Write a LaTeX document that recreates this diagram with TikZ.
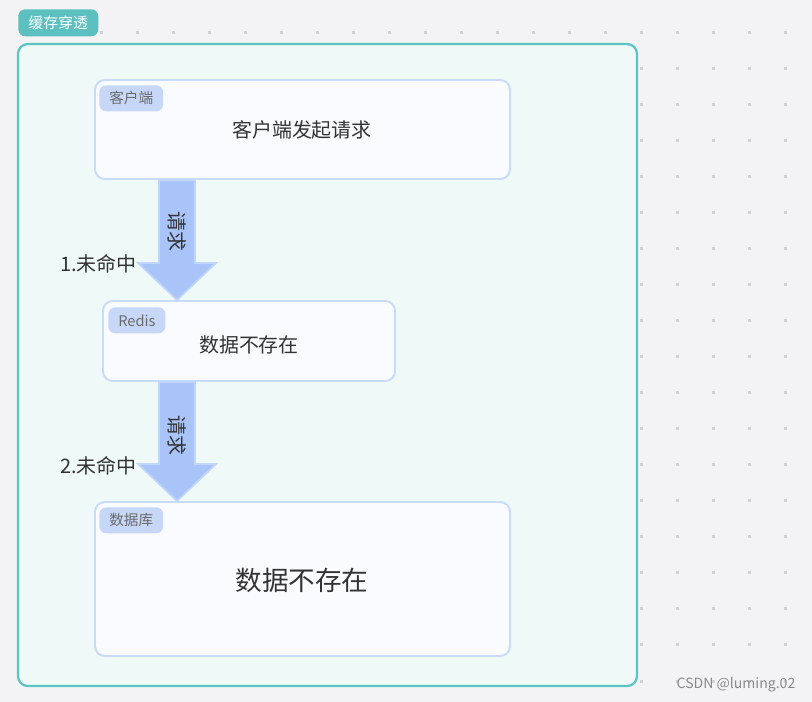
\documentclass[tikz,border=0pt]{standalone}
\usepackage{fontspec}
\setmainfont{Noto Sans CJK SC}
\usetikzlibrary{calc,fit}
\definecolor{bgcol}{HTML}{F3F3F6}
\definecolor{dotcol}{HTML}{D2D2D6}
\definecolor{framefill}{HTML}{EEF9F8}
\definecolor{frameline}{HTML}{5CC4C2}
\definecolor{frametagfill}{HTML}{5CC0C0}
\definecolor{boxline}{HTML}{C8DBFA}
\definecolor{boxfill}{HTML}{F9FBFF}
\definecolor{tagfill}{HTML}{C6D7F8}
\definecolor{tagtext}{HTML}{6B6B6B}
\definecolor{flowfill}{HTML}{A8C4F8}
\definecolor{flowline}{HTML}{C2D6FB}
\definecolor{txt}{HTML}{333333}
\definecolor{wmcol}{HTML}{8A8A8A}
\tikzset{
  frame/.style={draw=frameline, line width=1.6pt, fill=framefill, rounded corners=7pt, inner sep=0pt},
  frametag/.style={fill=frametagfill, text=white, rounded corners=5pt, inner sep=0pt,
    minimum width=2cm, minimum height=0.675cm, font=\fontsize{10.6}{12}\selectfont},
  box/.style={draw=boxline, line width=1.4pt, fill=boxfill, rounded corners=7pt, inner sep=0pt},
  tag/.style={fill=tagfill, text=tagtext, rounded corners=5pt, inner xsep=0.25cm, inner ysep=0pt,
    minimum height=0.65cm, font=\fontsize{10.4}{12}\selectfont},
  flow/.style={draw=flowline, line width=1.2pt, fill=flowfill, line join=miter},
}
\newcommand{\flowarrow}[2]{%
  \draw[flow] ($(#1)+(-18,0)$) -- ($(#2)+(-18,-37)$) -- ($(#2)+(-39,-37)$) -- (#2)
    -- ($(#2)+(39,-37)$) -- ($(#2)+(18,-37)$) -- ($(#1)+(18,0)$) -- cycle;}
\begin{document}
\begin{tikzpicture}[x=0.025cm, y=-0.025cm, font=\fontsize{14.2}{17}\selectfont, text=txt]
    \useasboundingbox[fill=bgcol] (0,0) rectangle (812,702);
    % dot grid
    \foreach \i in {0,...,19}
      \foreach \j in {0,...,18}
        \fill[dotcol] ({99.5+36*\i},{31.5+36*\j}) rectangle +(3,3);
    % frame
    \node[frame, fit={(18,44) (637,686)}] (frame) {};
    \node[frametag, anchor=north west] (frametag) at (18,9) {缓存穿透};
    % boxes
    \node[box, fit={(95,80) (510,179)}] (client) {};
    \node[tag, anchor=north west] (clienttag) at ($(client.north west)+(5,6)$) {客户端};
    \node (clienttext) at (302,130) {客户端发起请求};
    \node[box, fit={(103,301) (395,381)}] (redis) {};
    \node[tag, anchor=north west] (redistag) at ($(redis.north west)+(6,7)$) {Redis};
    \node (redistext) at (249,345) {数据不存在};
    \node[box, fit={(95,502) (510,656)}] (db) {};
    \node[tag, anchor=north west] (dbtag) at ($(db.north west)+(5,6)$) {数据库};
    \node[font=\fontsize{18.9}{22}\selectfont] (dbtext) at (302,580) {数据不存在};
    % arrows
    \coordinate (a1top) at ($(client.south west)+(83,0)$);
    \coordinate (a1tip) at ($(redis.north west)+(75,0)$);
    \coordinate (a2top) at ($(redis.south west)+(75,0)$);
    \coordinate (a2tip) at ($(db.north west)+(83,0)$);
    \flowarrow{a1top}{a1tip}
    \flowarrow{a2top}{a2tip}
    \node[rotate=-90] (req1) at ($(a1top)!0.43!(a1tip)$) {请求};
    \node[rotate=-90] (req2) at ($(a2top)!0.45!(a2tip)$) {请求};
    \node[anchor=east, inner sep=0pt] (miss1) at ($(a1tip)+(-40,-36)$) {1.未命中};
    \node[anchor=east, inner sep=0pt] (miss2) at ($(a2tip)+(-40,-35)$) {2.未命中};
    % watermark
    \node[text=wmcol, font=\fontsize{10}{12}\selectfont] (mark) at (736,685) {CSDN @luming.02};
\end{tikzpicture}
\end{document}
